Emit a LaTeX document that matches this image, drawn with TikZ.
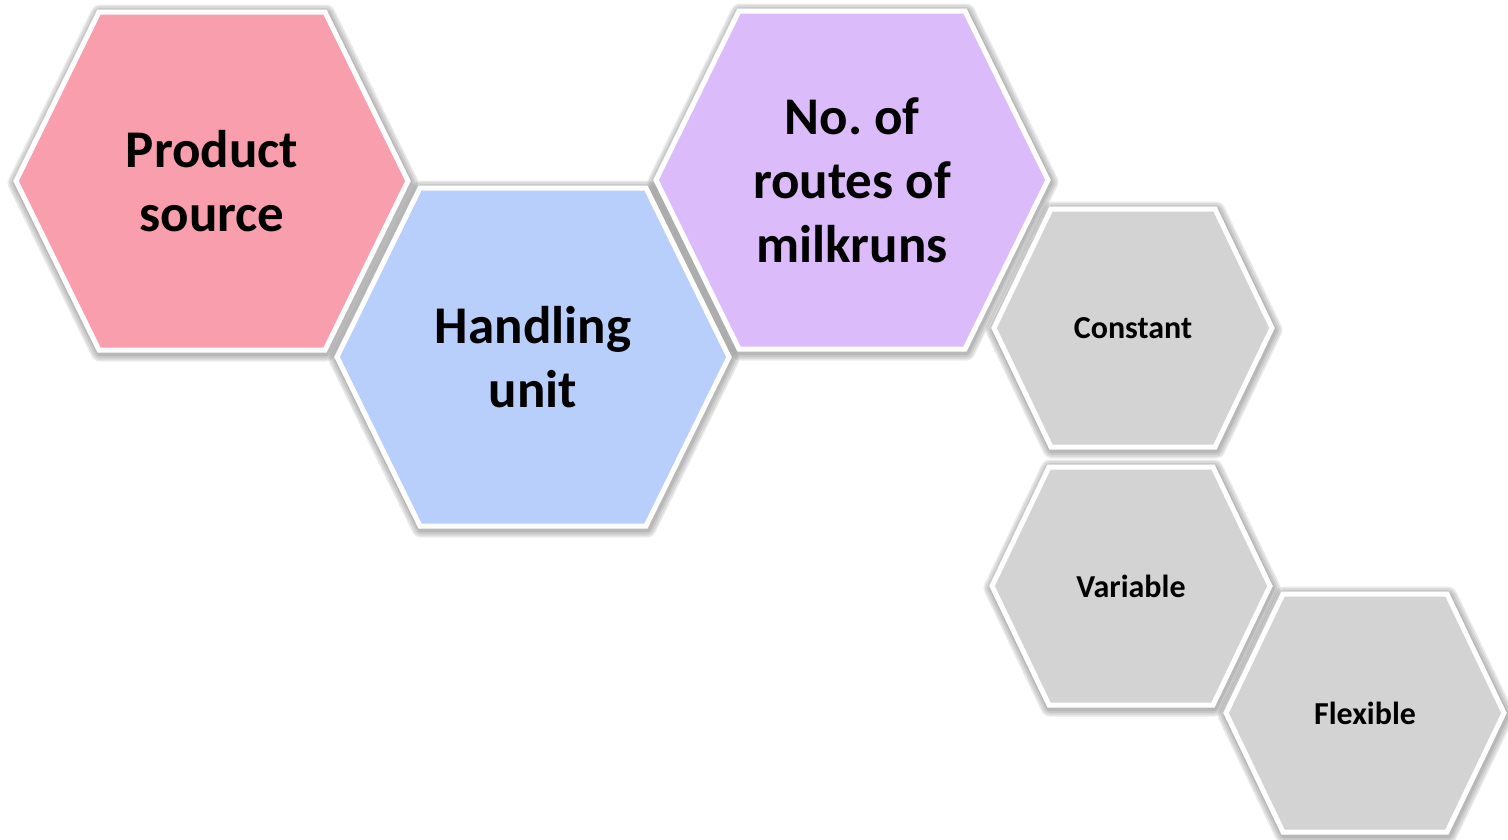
\documentclass[tikz,border=0pt]{standalone}
\usepackage{fontspec}
\setmainfont{Carlito}

\definecolor{cellpink}{RGB}{249,158,172}
\definecolor{cellblue}{RGB}{184,206,251}
\definecolor{cellpurple}{RGB}{219,187,249}
\definecolor{cellgrey}{RGB}{211,211,211}

% hexagon outline: centre (#1,#2), half width #3, half height #4, half top edge #5
\newcommand\hexoutline[5]{({#1-#3},#2) -- ({#1-#5},{#2-#4}) -- ({#1+#5},{#2-#4}) -- ({#1+#3},#2) -- ({#1+#5},{#2+#4}) -- ({#1-#5},{#2+#4}) -- cycle}

% soft shadow built from stacked translucent strokes
\newcommand\hexshadow[5]{%
  \foreach \w in {19,16,12,8}{%
    \draw[shadowstroke, line width=\w pt] \hexoutline{#1}{#2}{#3}{#4}{#5};}}

\tikzset{
  shadowstroke/.style={black, opacity=0.08, line join=round, shift={(1,2)}},
  cell/.style={draw=white, line width=5pt, line join=miter},
  bigtext/.style={font=\bfseries\fontsize{53}{64}\selectfont, align=center, text=black},
  smalltext/.style={font=\bfseries\fontsize{32}{38}\selectfont, align=center, text=black},
}

\begin{document}
\frenchspacing
\begin{tikzpicture}[x=1pt, y=-1pt]
\useasboundingbox (0,0) rectangle (1508,839);

% shadows below every cell
\hexshadow{212}{181}{196}{169}{113}
\hexshadow{533}{357}{196}{169}{113}
\hexshadow{852}{180}{196}{169}{113}
\hexshadow{1133}{328}{139}{119}{82}
\hexshadow{1131}{586}{139}{119}{82}
\hexshadow{1365}{713}{139}{119}{82}

% main categories
\draw[cell, fill=cellpink]   \hexoutline{212}{181}{196}{169}{113};
\draw[cell, fill=cellblue]   \hexoutline{533}{357}{196}{169}{113};
\draw[cell, fill=cellpurple] \hexoutline{852}{180}{196}{169}{113};

% options
\draw[cell, fill=cellgrey] \hexoutline{1133}{328}{139}{119}{82};
\draw[cell, fill=cellgrey] \hexoutline{1131}{586}{139}{119}{82};
\draw[cell, fill=cellgrey] \hexoutline{1365}{713}{139}{119}{82};

\node[bigtext] (src) at (212,181) {Product\\source};
\node[bigtext] (hu) at (533,357) {Handling\\unit};
\node[bigtext] (routes) at (852,180) {No.\ of\\routes of\\milkruns};
\node[smalltext] (const) at (1133,328) {Constant};
\node[smalltext] (var) at (1131,586) {Variable};
\node[smalltext] (flex) at (1365,713) {Flexible};
\end{tikzpicture}
\end{document}
